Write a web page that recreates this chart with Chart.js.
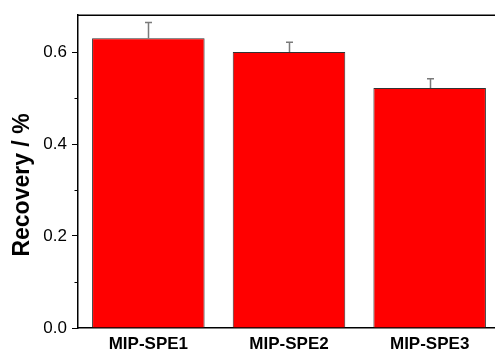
<!DOCTYPE html>
<html>
<head>
<meta charset="utf-8">
<script src="https://cdn.jsdelivr.net/npm/chart.js@4/dist/chart.umd.min.js"></script>
<style>
  html, body { margin: 0; padding: 0; background: #fff; overflow: hidden; }
  #wrap { width: 500px; height: 351px; }
</style>
</head>
<body>
<div id="wrap"><canvas id="c" width="500" height="351"></canvas></div>
<script>
// Sample names and measured recoveries with their standard deviations
const categories = ['MIP-SPE1', 'MIP-SPE2', 'MIP-SPE3'];
const recovery = [0.630, 0.600, 0.522];
const errors = [0.034, 0.021, 0.020];
const majorTicks = [0.0, 0.2, 0.4, 0.6];
const minorTicks = [0.1, 0.3, 0.5];

const FONT = '"Liberation Sans", Arial, sans-serif';

// Top border, minor ticks, error bars and the rotated axis title
const decorations = {
  id: 'decorations',
  afterDatasetsDraw(chart) {
    const ctx = chart.ctx;
    const x = chart.scales.x;
    const y = chart.scales.y;

    // error bars
    ctx.save();
    ctx.strokeStyle = '#7a7a7a';
    ctx.lineWidth = 1.5;
    recovery.forEach((v, i) => {
      const px = Math.round(x.getPixelForValue(i)) + 0.5;
      const yTop = y.getPixelForValue(v + errors[i]);
      const yBar = y.getPixelForValue(v);
      ctx.beginPath();
      ctx.moveTo(px, yBar);
      ctx.lineTo(px, yTop);
      ctx.moveTo(px - 3.5, yTop);
      ctx.lineTo(px + 3.5, yTop);
      ctx.stroke();
    });
    ctx.restore();
  },
  afterDraw(chart) {
    const ctx = chart.ctx;
    const area = chart.chartArea;
    const y = chart.scales.y;
    ctx.save();
    ctx.strokeStyle = '#000';
    ctx.lineWidth = 1.5;
    ctx.beginPath();
    ctx.moveTo(area.left, area.top);
    ctx.lineTo(area.right, area.top);
    ctx.stroke();

    ctx.lineWidth = 1;
    minorTicks.forEach(v => {
      const py = Math.round(y.getPixelForValue(v)) + 0.5;
      ctx.beginPath();
      ctx.moveTo(area.left - 3.5, py);
      ctx.lineTo(area.left, py);
      ctx.stroke();
    });

    ctx.fillStyle = '#000';
    ctx.font = 'bold 23px ' + FONT;
    ctx.textAlign = 'center';
    ctx.textBaseline = 'alphabetic';
    ctx.translate(29, 185);
    ctx.rotate(-Math.PI / 2);
    ctx.fillText('Recovery / %', 0, 0);
    ctx.restore();
  }
};

new Chart(document.getElementById('c'), {
  type: 'bar',
  data: {
    labels: categories,
    datasets: [{
      data: recovery,
      backgroundColor: '#ff0000',
      borderColor: '#333333',
      borderWidth: 1,
      barPercentage: 0.8,
      categoryPercentage: 1.0
    }]
  },
  options: {
    responsive: false,
    animation: false,
    devicePixelRatio: 1,
    layout: { padding: { top: 15, right: 0, bottom: 0, left: 0 } },
    plugins: { legend: { display: false }, tooltip: { enabled: false } },
    scales: {
      x: {
        grid: { display: false, drawTicks: false },
        border: { display: true, color: '#000', width: 1.5 },
        ticks: {
          color: '#000',
          padding: 6,
          font: { family: FONT, size: 17, weight: 'bold' },
          maxRotation: 0
        },
        afterFit(scale) { scale.height = 23; }
      },
      y: {
        min: 0,
        max: 0.68,
        grid: { drawOnChartArea: false, drawTicks: true, tickLength: 6, color: '#000', tickColor: '#000' },
        border: { display: true, color: '#000', width: 1.5 },
        afterBuildTicks(scale) { scale.ticks = majorTicks.map(v => ({ value: v })); },
        ticks: {
          color: '#000',
          padding: 5,
          font: { family: FONT, size: 17 },
          callback: v => v.toFixed(1)
        },
        afterFit(scale) { scale.width = 78; }
      }
    }
  },
  plugins: [decorations]
});
</script>
</body>
</html>
